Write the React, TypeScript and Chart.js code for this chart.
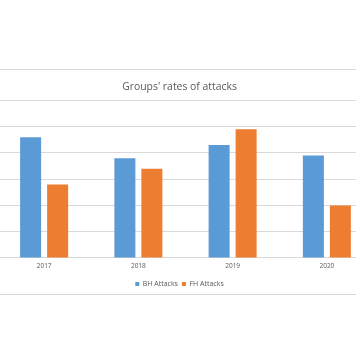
import React, { useEffect, useRef } from "react";
import { Chart, registerables } from "chart.js";

Chart.register(...registerables);

const years = ["2017", "2018", "2019", "2020"];
const bhAttacks = [4.6, 3.8, 4.3, 3.9];
const fhAttacks = [2.8, 3.4, 4.9, 2.0];
const yMin = 0;
const yMax = 6;
const yStep = 1;

const FONT = "'Open Sans', 'Noto Sans', sans-serif";
const TEXT = "#595959";
const GRID = "#D9D9D9";

const borderPlugin = {
  id: "outerBorder",
  beforeDraw(chart: any) {
    const { ctx, width, height } = chart;
    ctx.save();
    ctx.fillStyle = "#ffffff";
    ctx.fillRect(0, 0, width, height);
    ctx.strokeStyle = GRID;
    ctx.lineWidth = 1;
    ctx.strokeRect(0.5, 0.5, width - 1, height - 1);
    ctx.restore();
  },
};

export default function App() {
  const ref = useRef<HTMLCanvasElement>(null);
  useEffect(() => {
    if (!ref.current) return;
    const chart = new Chart(ref.current, {
      type: "bar",
      data: {
        labels: years,
        datasets: [
          { label: "BH Attacks", data: bhAttacks, backgroundColor: "#5B9BD5" },
          { label: "FH Attacks", data: fhAttacks, backgroundColor: "#ED7D31" },
        ],
      },
      options: {
        responsive: false,
        animation: false,
        devicePixelRatio: 1,
        categoryPercentage: 0.573,
        barPercentage: 0.778,
        layout: { padding: { left: 5, right: 3, top: 0, bottom: -2.5 } },
        plugins: {
          title: {
            display: true,
            text: "Groups' rates of attacks",
            color: TEXT,
            font: { family: FONT, size: 10.4, weight: "normal" },
            padding: { top: 12, bottom: 7 },
          },
          legend: {
            display: true,
            position: "bottom",
            labels: {
              color: TEXT,
              font: { family: FONT, size: 7 },
              boxWidth: 4,
              boxHeight: 4,
              padding: 4,
            },
          },
          tooltip: { enabled: false },
        },
        scales: {
          x: {
            grid: { display: false, drawTicks: false },
            border: { display: true, color: GRID },
            ticks: { color: TEXT, font: { family: FONT, size: 6.5 }, padding: 4 },
            afterFit(scale: any) {
              scale.height = scale.height + 2.7;
            },
          },
          y: {
            min: yMin,
            max: yMax,
            ticks: { display: false, stepSize: yStep },
            grid: { color: GRID, drawTicks: false },
            border: { display: false },
            afterFit(scale: any) {
              scale.width = 12;
            },
          },
        },
      },
      plugins: [borderPlugin],
    });
    return () => chart.destroy();
  }, []);

  return (
    <div
      style={{
        position: "fixed",
        left: 0,
        top: 0,
        width: 356,
        height: 364,
        overflow: "hidden",
        background: "#fff",
      }}
    >
      <canvas
        ref={ref}
        width={397}
        height={226}
        style={{ position: "absolute", left: -20, top: 69, width: 397, height: 226 }}
      />
    </div>
  );
}
